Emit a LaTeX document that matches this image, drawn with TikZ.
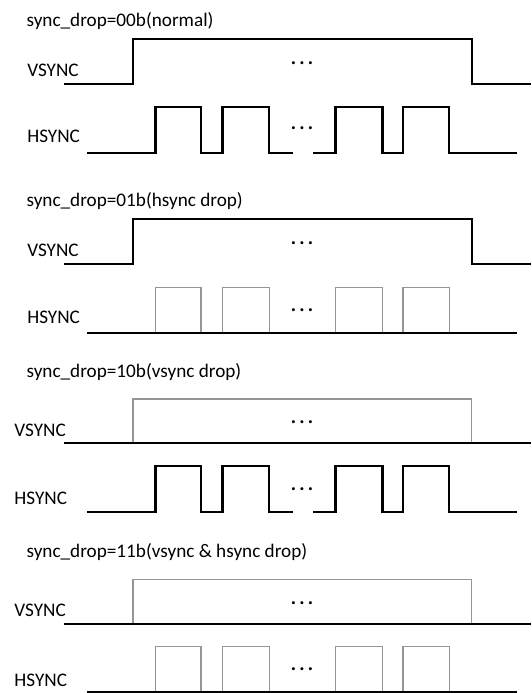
\documentclass[tikz,border=0pt]{standalone}
\usepackage{fontspec}
\setmainfont{Carlito}
\usepackage{tikz}

\definecolor{dropgray}{RGB}{150,150,150}
\tikzset{
	lbl/.style={anchor=west, inner sep=0pt, font=\fontsize{19.2}{22}\selectfont},
	dots/.style={inner sep=0pt, font=\fontsize{25}{28}\selectfont},
	sig/.style={line width=2.2pt, black},
	drop/.style={line width=1.3pt, dropgray},
}

\begin{document}
\begin{tikzpicture}[x=1pt, y=-1pt]

	\useasboundingbox (0,0) rectangle (531,693);

	% sync_drop=00b
	\node[lbl] (t1) at (26.4, 21.5)  {sync\_drop=00b(normal)};
	\node[lbl] (v1) at (27.1, 70)    {VSYNC};
	\node[lbl] (h1) at (27.1, 136.7) {HSYNC};
	\node[dots] (vd1) at (302, 62.7)  {.\hspace{2.2pt}.\hspace{2.2pt}.};
	\node[dots] (hd1) at (302, 128.3) {.\hspace{2.2pt}.\hspace{2.2pt}.};

	\draw[sig] (64,84.3) -- (133,84.3) |- (471.8,39.3) |- (531,84.3);
	\draw[sig] (87.4,153.3) -- (155.5,153.3) |- (201,106.7) |- (222.5,153.3) |- (269.2,106.7) |- (293,153.3);
	\draw[sig] (313.2,153.3) -- (335.5,153.3) |- (382.5,106.7) |- (403,153.3) |- (449.3,106.7) |- (517,153.3);

	% sync_drop=01b
	\node[lbl] (t2) at (26.4, 200.8) {sync\_drop=01b(hsync drop)};
	\node[lbl] (v2) at (27.1, 250.5) {VSYNC};
	\node[lbl] (h2) at (27.1, 317.5) {HSYNC};
	\node[dots] (vd2) at (302, 242.7) {.\hspace{2.2pt}.\hspace{2.2pt}.};
	\node[dots] (hd2) at (302, 310)   {.\hspace{2.2pt}.\hspace{2.2pt}.};

	\draw[sig] (64,264.3) -- (133,264.3) |- (471.8,219.3) |- (531,264.3);
	\draw[drop] (155.5,287.3) rectangle (201,332.7);
	\draw[drop] (222.5,287.3) rectangle (269.2,332.7);
	\draw[drop] (335.5,287.3) rectangle (382.5,332.7);
	\draw[drop] (403,287.3) rectangle (449.3,332.7);
	\draw[sig] (87.4,332.7) -- (517,332.7);

	% sync_drop=10b
	\node[lbl] (t3) at (26.4, 371.7) {sync\_drop=10b(vsync drop)};
	\node[lbl] (v3) at (14.2, 430)   {VSYNC};
	\node[lbl] (h3) at (14.2, 498.8) {HSYNC};
	\node[dots] (vd3) at (302, 421.7) {.\hspace{2.2pt}.\hspace{2.2pt}.};
	\node[dots] (hd3) at (302, 489.3) {.\hspace{2.2pt}.\hspace{2.2pt}.};

	\draw[drop] (133,399) rectangle (471.8,443.3);
	\draw[sig] (64,443.3) -- (531,443.3);
	\draw[sig] (87.4,512) -- (155.5,512) |- (201,465.7) |- (222.5,512) |- (269.2,465.7) |- (293,512);
	\draw[sig] (313.2,512) -- (335.5,512) |- (382.5,465.7) |- (403,512) |- (449.3,465.7) |- (517,512);

	% sync_drop=11b
	\node[lbl] (t4) at (26.4, 552.5) {sync\_drop=11b(vsync \& hsync drop)};
	\node[lbl] (v4) at (14.2, 610)   {VSYNC};
	\node[lbl] (h4) at (14.2, 680)   {HSYNC};
	\node[dots] (vd4) at (302, 602.7) {.\hspace{2.2pt}.\hspace{2.2pt}.};
	\node[dots] (hd4) at (302, 669.3) {.\hspace{2.2pt}.\hspace{2.2pt}.};

	\draw[drop] (133,579.3) rectangle (471.8,624);
	\draw[sig] (64,624) -- (531,624);
	\draw[drop] (155.5,646.7) rectangle (201,691.7);
	\draw[drop] (222.5,646.7) rectangle (269.2,691.7);
	\draw[drop] (335.5,646.7) rectangle (382.5,691.7);
	\draw[drop] (403,646.7) rectangle (449.3,691.7);
	\draw[sig] (87.4,691.7) -- (517,691.7);

\end{tikzpicture}
\end{document}
